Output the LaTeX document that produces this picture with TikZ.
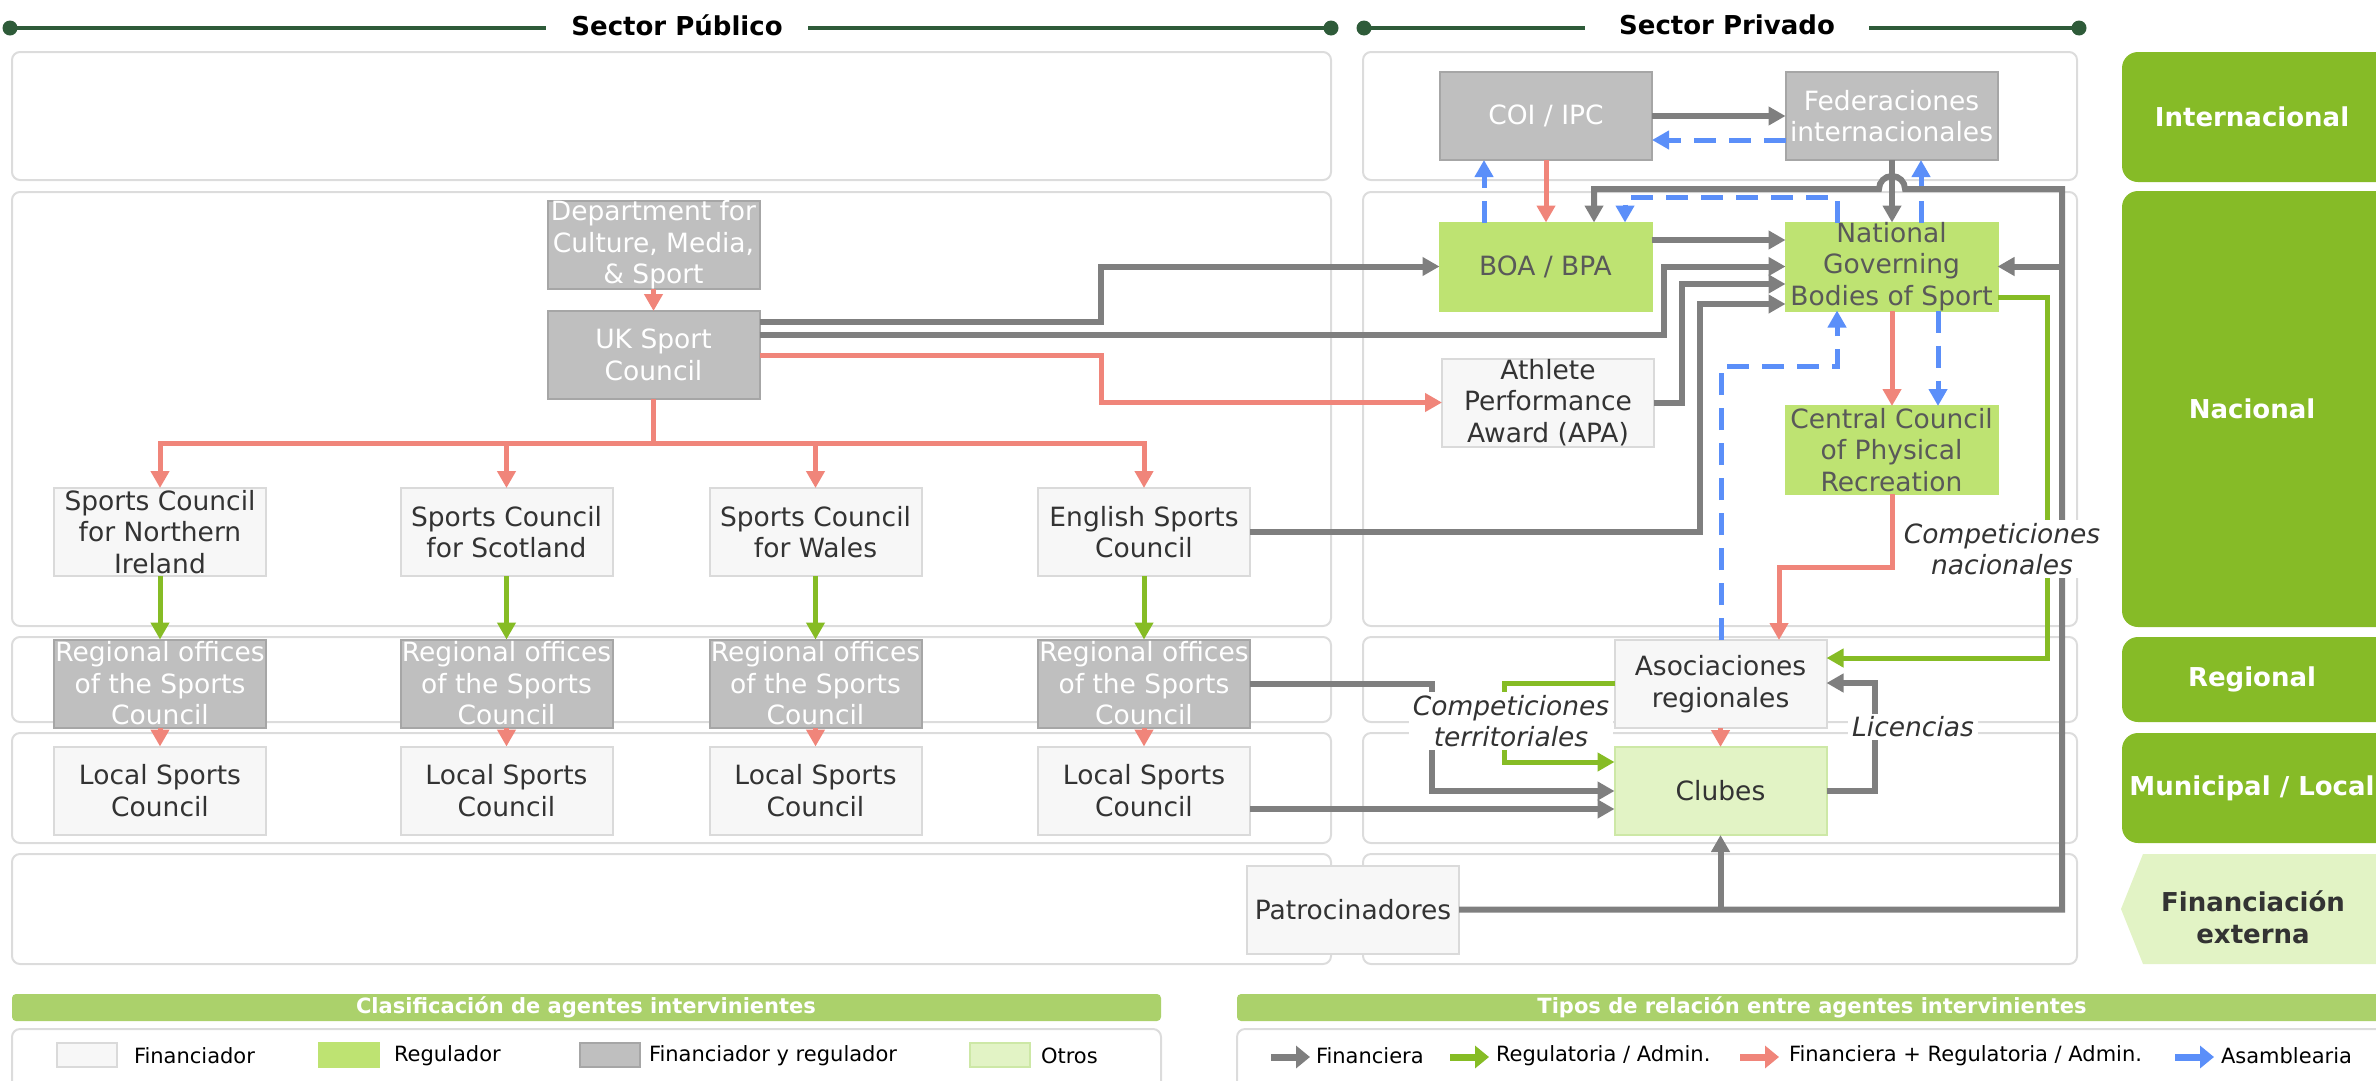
\documentclass[tikz,border=0pt]{standalone}
\usepackage{fontspec}
\setmainfont{DejaVu Sans}
\usetikzlibrary{arrows.meta}
\definecolor{hdrgreen}{HTML}{2E5B39}
\definecolor{cgray}{HTML}{7F7F7F}
\definecolor{cgreen}{HTML}{86BC25}
\definecolor{cred}{HTML}{F0857A}
\definecolor{cblue}{HTML}{5B8FF9}
\definecolor{boxgray}{HTML}{BFBFBF}
\definecolor{boxgrayline}{HTML}{A6A6A6}
\definecolor{regfill}{HTML}{BEE372}
\definecolor{finfill}{HTML}{F7F7F7}
\definecolor{finline}{HTML}{DADADA}
\definecolor{otrosfill}{HTML}{E2F3C5}
\definecolor{otrosline}{HTML}{CDE8A6}
\definecolor{lvlgreen}{HTML}{86BB27}
\definecolor{legbar}{HTML}{ABD16B}
\definecolor{panelline}{HTML}{DCDCDC}
\definecolor{txtdark}{HTML}{333333}
\definecolor{txtreg}{HTML}{595959}

\newcommand\agentnode[5]{%
  \node[#2] (#1) at (#3) {};
  \node[agtxt, text=#4] (#1-t) at (#1.center) {#5};}

\begin{document}
\begin{tikzpicture}[x=1pt,y=-1pt,
  every node/.style={inner sep=0pt, outer sep=0pt},
  agentbox/.style={minimum width=212pt, minimum height=88pt, line width=2pt},
  afin/.style={agentbox, fill=finfill, draw=finline},
  areg/.style={agentbox, fill=regfill, draw=regfill},
  agray/.style={agentbox, fill=boxgray, draw=boxgrayline},
  aotros/.style={agentbox, fill=otrosfill, draw=otrosline},
  agtxt/.style={align=center, font=\fontsize{26.5}{31.5}\selectfont},
  lbl/.style={fill=white, inner xsep=4pt, inner ysep=3pt, align=center, text=txtdark, font=\fontsize{26.5}{31.5}\selectfont\itshape},
  panelbox/.style={draw=panelline, line width=2pt, rounded corners=8pt},
  lvltxt/.style={text=white, font=\fontsize{26}{32}\selectfont\bfseries, align=center},
  hdrtxt/.style={fill=white, font=\fontsize{26}{31}\selectfont\bfseries, text=black},
  legtxt/.style={anchor=west, font=\fontsize{21}{25}\selectfont, text=black},
  legbartxt/.style={text=white, font=\fontsize{21}{25}\selectfont\bfseries},
  swatch/.style={line width=2pt, minimum width=60pt, minimum height=24pt},
  arr/.style={-{Triangle[length=17pt,width=18pt]}},
  gline/.style={draw=cgray, line width=6pt},
  rline/.style={draw=cred, line width=5pt},
  grline/.style={draw=cgreen, line width=5pt},
  bline/.style={draw=cblue, line width=5pt, dash pattern=on 22pt off 13pt},
]
\useasboundingbox (0,0) rectangle (2376,1080);

% ---------- headers ----------
\draw[hdrgreen, line width=4pt] (10,28) -- (1331,28);
\fill[hdrgreen] (10,28) circle[radius=7.5pt] (1331,28) circle[radius=7.5pt];
\node[hdrtxt, inner xsep=25pt, inner ysep=4pt] (hpub) at (677,25) {Sector Público};
\draw[hdrgreen, line width=4pt] (1364,28) -- (2079,28);
\fill[hdrgreen] (1364,28) circle[radius=7.5pt] (2079,28) circle[radius=7.5pt];
\node[hdrtxt, inner xsep=34pt, inner ysep=4pt] (hpriv) at (1727,25) {Sector Privado};

% ---------- panels ----------
\foreach \ya/\yb in {52/180, 192/626, 637/722, 733/843, 854/964}{
  \draw[panelbox] (12,\ya) rectangle (1331,\yb);
  \draw[panelbox] (1363,\ya) rectangle (2077,\yb);
}

% ---------- level labels ----------
\fill[lvlgreen, rounded corners=16pt] (2122,52) rectangle (2420,182);
\node[lvltxt] (lint) at (2252,117) {Internacional};
\fill[lvlgreen, rounded corners=16pt] (2122,191) rectangle (2420,627);
\node[lvltxt] (lnac) at (2252,409) {Nacional};
\fill[lvlgreen, rounded corners=16pt] (2122,637) rectangle (2420,722);
\node[lvltxt] (lreg) at (2252,679.5) {Regional};
\fill[lvlgreen, rounded corners=16pt] (2122,733) rectangle (2420,843);
\node[lvltxt] (lmun) at (2252,788) {Municipal / Local};
\fill[otrosfill] (2143,854) -- (2121,909) -- (2143,964) -- (2420,964) -- (2420,854) -- cycle;
\node[lvltxt, text=txtdark] (lfin) at (2253,917) {Financiación\\externa};

% ---------- agents: public ----------
\agentnode{dcms}{agray}{653.5,245}{white}{Department for\\Culture, Media,\\\& Sport}
\agentnode{uk}{agray}{653.5,355}{white}{UK Sport\\Council}
\agentnode{ni}{afin}{160,532}{txtdark}{Sports Council\\for Northern\\Ireland}
\agentnode{sco}{afin}{506.5,532}{txtdark}{Sports Council\\for Scotland}
\agentnode{wal}{afin}{815.5,532}{txtdark}{Sports Council\\for Wales}
\agentnode{eng}{afin}{1144,532}{txtdark}{English Sports\\Council}
\agentnode{rni}{agray}{160,683.5}{white}{Regional offices\\of the Sports\\Council}
\agentnode{rsco}{agray}{506.5,683.5}{white}{Regional offices\\of the Sports\\Council}
\agentnode{rwal}{agray}{815.5,683.5}{white}{Regional offices\\of the Sports\\Council}
\agentnode{reng}{agray}{1144,683.5}{white}{Regional offices\\of the Sports\\Council}
\agentnode{lni}{afin}{160,790.5}{txtdark}{Local Sports\\Council}
\agentnode{lsco}{afin}{506.5,790.5}{txtdark}{Local Sports\\Council}
\agentnode{lwal}{afin}{815.5,790.5}{txtdark}{Local Sports\\Council}
\agentnode{leng}{afin}{1144,790.5}{txtdark}{Local Sports\\Council}

% ---------- agents: private ----------
\agentnode{coi}{agray}{1546,116}{white}{COI / IPC}
\agentnode{fed}{agray}{1891.5,116}{white}{Federaciones\\internacionales}
\agentnode{boa}{areg}{1545.5,266.5}{txtreg}{BOA / BPA}
\agentnode{ngb}{areg}{1891.5,266.5}{txtreg}{National\\Governing\\Bodies of Sport}
\agentnode{apa}{afin}{1548,402.5}{txtdark}{Athlete\\Performance\\Award (APA)}
\agentnode{ccpr}{areg}{1891.5,450}{txtreg}{Central Council\\of Physical\\Recreation}
\agentnode{asoc}{afin}{1720.5,684}{txtdark}{Asociaciones\\regionales}
\agentnode{clubes}{aotros}{1720.5,791}{txtdark}{Clubes}
\agentnode{patro}{afin}{1353,909.5}{txtdark}{Patrocinadores}

% ---------- connectors: public ----------
\draw[rline,arr] (dcms.south) -- (uk.north);
\foreach \n in {ni,sco,wal,eng}{
  \draw[rline,arr] (uk.south) -- (uk.south |- 0,443) -| (\n.north);
}
\foreach \n in {ni,sco,wal,eng}{
  \draw[grline,arr] (\n.south) -- (r\n.north);
  \draw[rline,arr] (r\n.south) -- (l\n.north);
}
\draw[gline,arr] (uk.east |- 0,322) -| (1101,266.5) -- (boa.west);
\draw[gline,arr] (uk.east |- 0,335) -| (1664,266.5) -- (ngb.west);
\draw[rline,arr] (uk.east |- 0,355) -| (1101,402.5) -- (apa.west);
\draw[gline,arr] (apa.east) -| (1682,284) -- (ngb.west |- 0,284);
\draw[gline,arr] (eng.east) -| (1700,304) -- (ngb.west |- 0,304);
\draw[gline,arr] (boa.east |- 0,240) -- (ngb.west |- 0,240);
\draw[gline,arr] (reng.east) -| (1432,791) -- (clubes.west);
\draw[gline,arr] (leng.east |- 0,809) -- (clubes.west |- 0,809);

% ---------- connectors: private ----------
\draw[gline,arr] (coi.east) -- (fed.west);
\draw[bline,arr] (fed.west |- 0,140) -- (coi.east |- 0,140);
\draw[rline,arr] (coi.south) -- (coi.south |- boa.north);
\draw[bline,arr] (boa.north -| 1484,0) -- (coi.south -| 1484,0);
\draw[gline,arr] (fed.south -| 1892,0) -- (ngb.north -| 1892,0);
\draw[bline,arr] (ngb.north -| 1921,0) -- (fed.south -| 1921,0);
\draw[bline,arr] (ngb.north -| 1837,0) |- (1625,197) -- (boa.north -| 1625,0);
\draw[gline,arr] (patro.east) -| (2062,189) -- (1905,189)
   arc[start angle=0, end angle=180, radius=13pt] -- (1594,189) -- (boa.north -| 1594,0);
\draw[gline,arr] (2062,266.5) -- (ngb.east);
\draw[gline,arr] (clubes.south |- patro.east) -- (clubes.south);
\draw[rline,arr] (ngb.south -| 1892,0) -- (ccpr.north -| 1892,0);
\draw[bline,arr] (ngb.south -| 1938,0) -- (ccpr.north -| 1938,0);
\draw[rline,arr] (ccpr.south -| 1892,0) |- (1779,567) -- (asoc.north -| 1779,0);
\draw[bline,arr] (asoc.north -| 1721,0) |- (1837,366) -- (ngb.south -| 1837,0);
\draw[grline,arr] (ngb.east |- 0,297) -| (2047,658) -- (asoc.east |- 0,658);
\draw[rline,arr] (asoc.south) -- (clubes.north);
\draw[grline,arr] (asoc.west |- 0,683) -| (1504,762) -- (clubes.west |- 0,762);
\draw[gline,arr] (clubes.east) -| (1875,683) -- (asoc.east |- 0,683);

% ---------- labels ----------
\node[lbl] (lblnac) at (2002,549) {Competiciones\\nacionales};
\node[lbl] (lblterr) at (1511,721) {Competiciones\\territoriales};
\node[lbl] (lbllic) at (1913,727) {Licencias};

% ---------- legend ----------
\fill[legbar, rounded corners=4pt] (12,994) rectangle (1161,1021);
\node[legbartxt] (legA) at (586,1007.5) {Clasificación de agentes intervinientes};
\draw[panelbox] (12,1029) rectangle (1161,1110);
\node[swatch, fill=finfill, draw=finline] (swA) at (86.5,1055) {};
\node[legtxt] (swAt) at (134,1056) {Financiador};
\node[swatch, fill=regfill, draw=regfill] (swB) at (348.5,1055) {};
\node[legtxt] (swBt) at (394,1056) {Regulador};
\node[swatch, fill=boxgray, draw=boxgrayline] (swC) at (610,1055) {};
\node[legtxt] (swCt) at (649,1056) {Financiador y regulador};
\node[swatch, fill=otrosfill, draw=otrosline] (swD) at (1000,1055) {};
\node[legtxt] (swDt) at (1041,1056) {Otros};

\fill[legbar, rounded corners=4pt] (1237,994) rectangle (2400,1021);
\node[legbartxt] (legB) at (1812,1007.5) {Tipos de relación entre agentes intervinientes};
\draw[panelbox] (1237,1029) rectangle (2420,1110);
\draw[cgray, line width=7pt, -{Triangle[length=14pt,width=22pt]}] (1271,1057) -- (1310,1057);
\node[legtxt] (ltA) at (1316,1056) {Financiera};
\draw[cgreen, line width=7pt, -{Triangle[length=14pt,width=22pt]}] (1450,1057) -- (1489,1057);
\node[legtxt] (ltB) at (1496,1056) {Regulatoria / Admin.};
\draw[cred, line width=7pt, -{Triangle[length=14pt,width=22pt]}] (1740,1057) -- (1779,1057);
\node[legtxt] (ltC) at (1789,1056) {Financiera + Regulatoria / Admin.};
\draw[cblue, line width=7pt, -{Triangle[length=14pt,width=22pt]}] (2175,1057) -- (2214,1057);
\node[legtxt] (ltD) at (2221,1056) {Asamblearia};
\end{tikzpicture}
\end{document}
